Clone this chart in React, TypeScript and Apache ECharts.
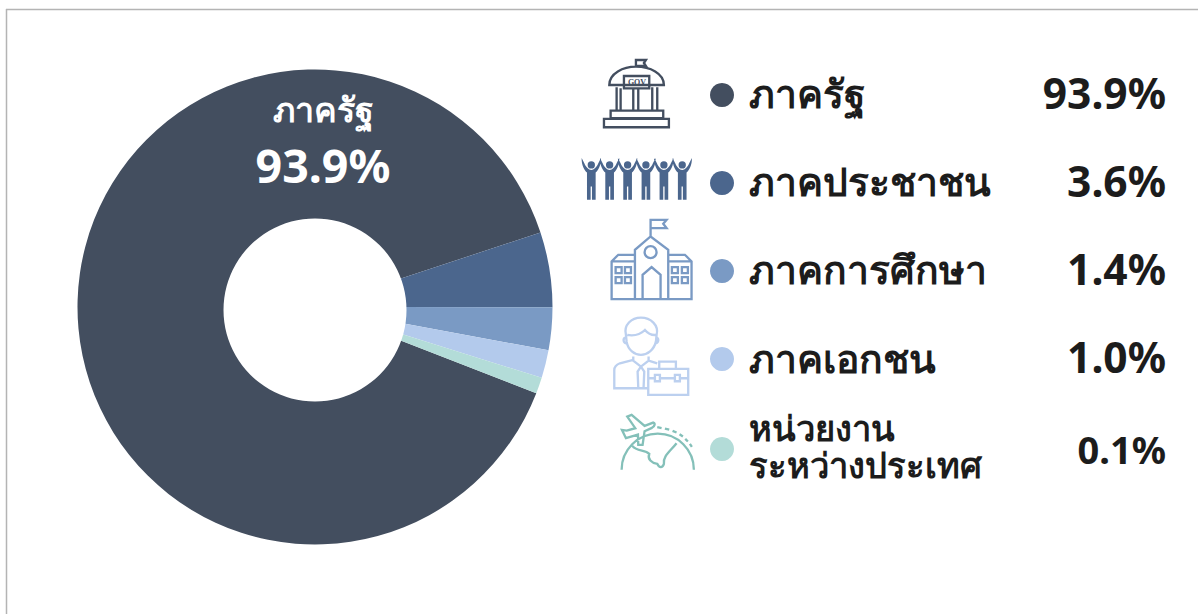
import React, { useEffect, useRef } from "react";
import * as echarts from "echarts";

const categories = ["ภาครัฐ", "ภาคประชาชน", "ภาคการศึกษา", "ภาคเอกชน", "หน่วยงาน\nระหว่างประเทศ"];
const valueLabels = ["93.9%", "3.6%", "1.4%", "1.0%", "0.1%"];
// Slice sizes as drawn in the picture (in percent of the circle)
const drawnShares = [89.0, 5.1, 2.9, 1.9, 1.1];
const colors = ["#434e5f", "#4b668d", "#7a9ac4", "#b3caec", "#b3dcd8"];
const rowY = [95, 183, 271, 359, 449];
const FONT = "'Noto Sans', 'Open Sans', sans-serif";

const figureX = [64, 119, 173, 228, 282, 337];
const peopleD = figureX
  .map((x) => `M${x - 29} 324 C${x - 30} 345 ${x - 20} 362 ${x - 13} 368 L${x - 13} 410 L${x - 13} 450 L${x - 2} 450 L${x - 2} 410 L${x + 2} 410 L${x + 2} 450 L${x + 13} 450 L${x + 13} 368 C${x + 20} 362 ${x + 30} 345 ${x + 29} 324 L${x + 21} 340 C${x + 16} 352 ${x + 8} 360 ${x} 360 C${x - 8} 360 ${x - 16} 352 ${x - 21} 340 Z M${x + 11} 345 A11 11 0 1 0 ${x - 11} 345 A11 11 0 1 0 ${x + 11} 345 Z`)
  .join(" ");

const shapes: Record<string, string> = {
  iconGov:
    "M198 50 L198 30 L228 30 L222 39 L228 48 L198 48 M118 105 C118 70 160 50 198 50 C240 50 282 70 282 105 Z M162 78 L238 78 L238 115 L162 115 Z M140 112 L140 180 M152 115 L152 180 M190 115 L190 180 M205 115 L205 180 M247 112 L247 180 M262 112 L262 180 M122 182 L280 182 L280 205 L122 205 Z M102 207 L297 207 L297 232 L102 232 Z",
  iconSchool:
    "M242 560 L242 510 L290 510 L280 522 L290 535 L242 535 M195 745 L195 600 L242 560 L295 600 L295 745 M260 607 A18 18 0 1 0 224 607 A18 18 0 1 0 260 607 Z M218 745 L218 675 L245 652 L272 675 L272 745 M195 615 L145 615 L125 635 L125 748 L365 748 L365 635 L345 615 L295 615 M125 635 L195 635 M295 635 L365 635 M137 652 L155 652 L155 670 L137 670 Z M165 652 L183 652 L183 670 L165 670 Z M137 682 L155 682 L155 700 L137 700 Z M165 682 L183 682 L183 700 L165 700 Z M306 652 L324 652 L324 670 L306 670 Z M336 652 L354 652 L354 670 L336 670 Z M306 682 L324 682 L324 700 L306 700 Z M336 682 L354 682 L354 700 L336 700 Z",
  iconPerson:
    "M168 105 C160 75 185 53 213 53 C242 53 268 75 260 105 L258 125 C252 150 232 165 213 165 C194 165 174 150 170 125 Z M172 105 C190 108 210 105 225 90 C235 102 248 106 258 105 M168 112 A8 9 0 0 0 170 130 M258 112 A8 9 0 0 1 256 130 M190 170 L190 182 L213 200 L236 182 L236 170 M190 180 L150 190 C140 194 133 200 133 210 L133 265 L233 265 M236 182 L262 190 M213 200 L203 215 L205 262 M213 200 L223 215 L221 262 M235 207 L355 207 L355 285 L235 285 Z M268 205 L268 185 L318 185 L318 205 M235 235 L255 235 M270 235 L315 235 M330 235 L355 235 M255 225 L270 225 L270 244 L255 244 Z M315 225 L330 225 L330 244 L315 244 Z",
  iconPlane:
    "M155 510 A108 108 0 0 1 372 510 M187 438 C200 455 225 450 238 462 C232 478 245 490 262 492 C268 505 278 505 282 492 C278 470 300 455 320 430 M170 392 L196 385 L172 350 L185 345 L224 378 L250 368 C256 370 256 378 246 384 L224 394 L218 435 L205 435 L204 404 L168 415 L156 390 Z",
  iconDash: "M262 382 L275 385 M285 386 L298 389 M308 393 L320 398 M329 403 L339 410 M346 417 L354 425 M360 432 L366 441",
  iconPeople: peopleD,
};
Object.keys(shapes).forEach((name) => {
  echarts.graphic.registerShape(name, echarts.graphic.extendPath(shapes[name], {}) as any);
});

const strokeIcon = (type: string, ox: number, oy: number, stroke: string) => ({
  type,
  x: ox,
  y: oy,
  z: 10,
  scaleX: 1 / 3,
  scaleY: 1 / 3,
  silent: true,
  style: { fill: "none", stroke, lineWidth: 7 },
});

export default function App() {
  const ref = useRef<HTMLDivElement>(null);
  useEffect(() => {
    document.body.style.margin = "0";
    const chart = echarts.init(ref.current!, null, { renderer: "svg" });
    const legend: any[] = [];
    categories.forEach((c, i) => {
      const twoLines = c.includes("\n");
      legend.push({ type: "circle", z: 10, shape: { cx: 722, cy: rowY[i], r: 12 }, style: { fill: colors[i] } });
      legend.push({
        type: "text",
        z: 10,
        x: 749,
        y: rowY[i] + (i === 3 ? -2 : -3),
        style: {
          text: c,
          fill: "#1c1c1c",
          font: `700 ${twoLines ? 34.5 : 39}px ${FONT}`,
          lineHeight: 37,
          verticalAlign: "middle",
          align: "left",
        },
      });
      legend.push({
        type: "text",
        z: 10,
        x: 1166,
        y: rowY[i] + (i === 4 ? 0 : -3),
        style: {
          text: valueLabels[i],
          fill: "#1c1c1c",
          font: `700 ${i === 4 ? 38 : 42.5}px ${FONT}`,
          verticalAlign: "middle",
          align: "right",
        },
      });
    });
    chart.setOption({
      animation: false,
      backgroundColor: "#ffffff",
      series: [
        {
          type: "pie",
          center: [315, 307],
          radius: [85, 237.5],
          startAngle: -21.3,
          clockwise: true,
          silent: true,
          label: { show: false },
          labelLine: { show: false },
          data: categories.map((c, i) => ({
            name: c,
            value: drawnShares[i],
            itemStyle: { color: colors[i] },
          })),
        },
      ],
      graphic: {
        elements: [
          { type: "circle", z: 10, shape: { cx: 315, cy: 310, r: 91.5 }, style: { fill: "#ffffff" } },
          { type: "line", shape: { x1: 6, y1: 9.5, x2: 1198, y2: 9.5 }, style: { stroke: "#b4b4b4", lineWidth: 1.5 } },
          { type: "line", shape: { x1: 6.5, y1: 9, x2: 6.5, y2: 614 }, style: { stroke: "#b4b4b4", lineWidth: 1.5 } },
          { type: "text", z: 10, x: 323, y: 109, style: { text: categories[0], fill: "#ffffff", font: `700 34px ${FONT}`, align: "center", verticalAlign: "middle" } },
          { type: "text", z: 10, x: 323, y: 165, style: { text: valueLabels[0], fill: "#ffffff", font: `700 46.5px ${FONT}`, align: "center", verticalAlign: "middle" } },
          ...legend,
          strokeIcon("iconGov", 570, 50, colors[0]),
          { type: "text", z: 10, x: 637, y: 82, style: { text: "GOV", fill: colors[0], font: "700 8px 'Liberation Serif', serif", align: "center", verticalAlign: "middle" } },
          { type: "iconPeople", z: 10, x: 570, y: 50, scaleX: 1 / 3, scaleY: 1 / 3, style: { fill: colors[1] } },
          strokeIcon("iconSchool", 570, 50, colors[2]),
          strokeIcon("iconPerson", 570, 300, "#bcd0ef"),
          strokeIcon("iconPlane", 570, 300, "#84c0b9"),
          strokeIcon("iconDash", 570, 300, "#84c0b9"),
        ],
      },
    });
    return () => chart.dispose();
  }, []);
  return <div ref={ref} style={{ width: 1198, height: 614 }} />;
}
